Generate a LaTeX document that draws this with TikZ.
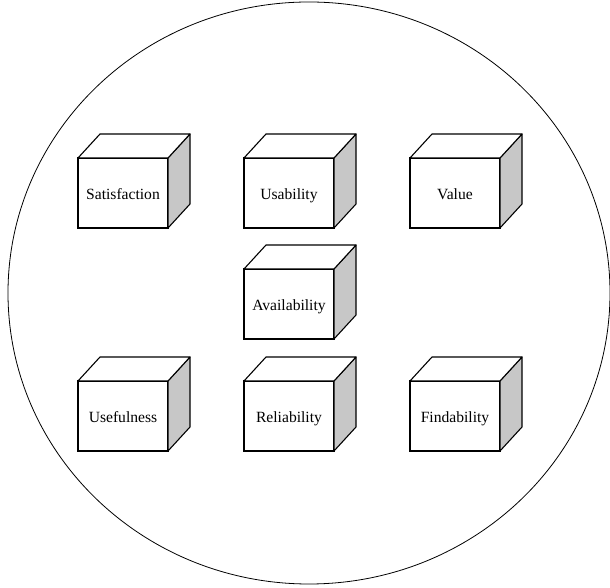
\documentclass[tikz,border=0pt]{standalone}
\usepackage{fontspec}
\usetikzlibrary{shapes.geometric}
\setmainfont{Liberation Serif}
\begin{document}
\begin{tikzpicture}[x=1pt,y=1pt,
  facebox/.style={draw=black,line width=1.3pt,fill=white,minimum width=90pt,minimum height=70pt,
    inner sep=0pt,outer sep=0pt,font=\fontsize{15.6}{18}\selectfont},
  sideface/.style={draw=black,line width=1.1pt,fill=black!22,line join=round},
  topface/.style={draw=black,line width=1.1pt,fill=white,line join=round},
  ring/.style={draw=black,line width=0.8pt}]
\useasboundingbox (0,0) rectangle (610,588);
\node[ring,ellipse,minimum width=602pt,minimum height=582pt,inner sep=0pt] (outer) at (309,295) {};
\newcommand\mycube[4]{%
  \node[facebox] (#1) at (#2,#3) {\raisebox{-7pt}[0pt][0pt]{#4}};
  \draw[sideface] (#1.north east) -- ++(22,24) -- ++(0,-70) -- (#1.south east) -- cycle;
  \draw[topface] (#1.north west) -- ++(22,24) -- ++(90,0) -- (#1.north east) -- cycle;
}
\mycube{sat}{123}{395}{Satisfaction}
\mycube{usa}{289}{395}{Usability}
\mycube{val}{455}{395}{Value}
\mycube{ava}{289}{284}{Availability}
\mycube{use}{123}{172}{Usefulness}
\mycube{rel}{289}{172}{Reliability}
\mycube{fin}{455}{172}{Findability}
\end{tikzpicture}
\end{document}
